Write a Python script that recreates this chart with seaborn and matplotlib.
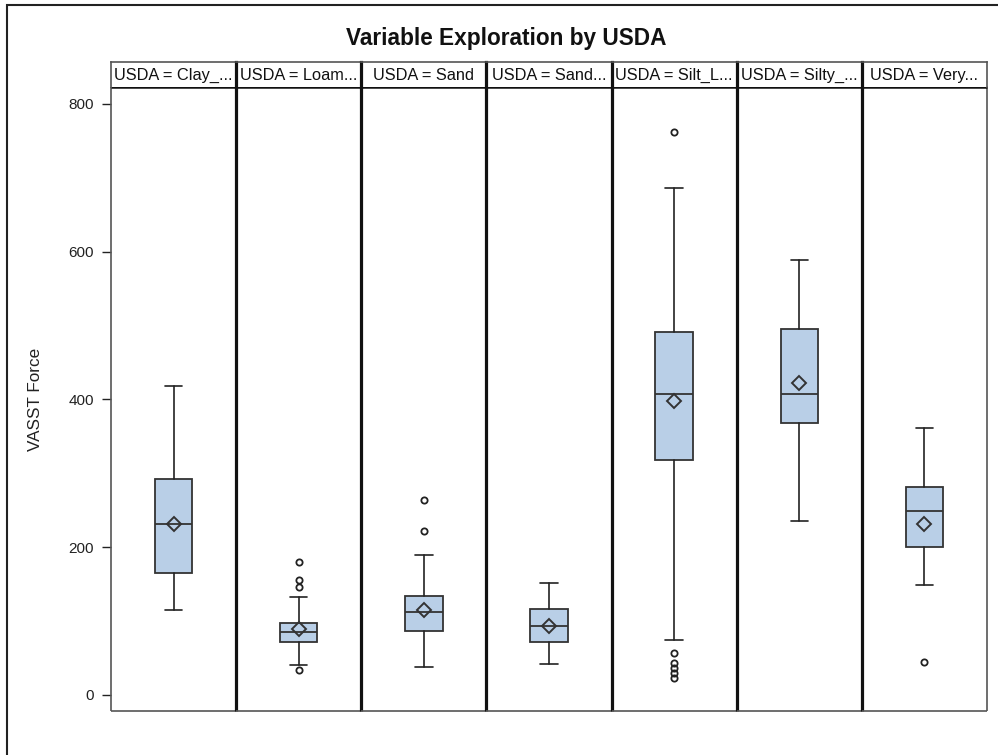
import numpy as np
import pandas as pd
import matplotlib
matplotlib.use("Agg")
import matplotlib.pyplot as plt
from matplotlib.patches import Rectangle
import seaborn as sns

# ---------------- data ----------------
labels = ["USDA = Clay_...", "USDA = Loam...", "USDA = Sand", "USDA = Sand...",
          "USDA = Silt_L...", "USDA = Silty_...", "USDA = Very..."]
q1 = [165, 72, 87, 72, 318, 368, 200]
med = [231, 85, 112, 93, 407, 407, 249]
q3 = [293, 97, 134, 116, 491, 496, 281]
whislo = [115, 41, 38, 42, 74, 235, 149]
whishi = [418, 133, 189, 151, 686, 589, 361]
means = [232, 89, 115, 93, 398, 422, 232]
fliers = [[], [34, 146, 156, 180], [222, 264], [], [23, 30, 36, 43, 57, 762], [], [45]]
yticks = [0, 200, 400, 600, 800]
title = "Variable Exploration by USDA"
ylabel = "VASST Force"

df = pd.DataFrame({"USDA": labels, "q1": q1, "med": med, "q3": q3,
                   "whislo": whislo, "whishi": whishi, "mean": means})

sns.set_style("white")
plt.rcParams['font.family'] = ['Liberation Sans', 'DejaVu Sans']

W, H = 998, 755
g = sns.FacetGrid(df, col="USDA", col_order=labels, sharey=True, height=6, aspect=0.2)
fig = g.figure
fig.set_size_inches(W / 100, H / 100)
fig.set_dpi(100)
fig.subplots_adjust(left=111 / W, right=987 / W, bottom=1 - 711 / H, top=1 - 87 / H, wspace=0)

box_fc = "#B9CFE7"
edge = "#333333"
sep = "#111111"
thin = "#555555"

for i, ax in enumerate(g.axes.flat):
    r = df.iloc[i]
    stats = [dict(med=r["med"], q1=r["q1"], q3=r["q3"], whislo=r["whislo"],
                  whishi=r["whishi"], mean=r["mean"], fliers=fliers[i])]
    ax.bxp(stats, positions=[0], widths=0.3, capwidths=0.14, showmeans=True,
           patch_artist=True, manage_ticks=False,
           boxprops=dict(facecolor=box_fc, edgecolor=edge, linewidth=1.3),
           medianprops=dict(color=edge, linewidth=1.3),
           whiskerprops=dict(color="#222222", linewidth=1.2),
           capprops=dict(color="#222222", linewidth=1.2),
           meanprops=dict(marker="D", markerfacecolor="none", markeredgecolor=edge,
                          markersize=7, markeredgewidth=1.4),
           flierprops=dict(marker="o", markerfacecolor="none", markeredgecolor="#222222",
                           markersize=4.5, markeredgewidth=1.3))
    ax.set_xlim(-0.5, 0.5)
    ax.set_ylim(-21.7, 823)
    ax.set_xticks([])
    ax.set_xlabel("")
    ax.set_ylabel("")
    ax.set_title("")
    for s in ax.spines.values():
        s.set_visible(True)
        s.set_capstyle("butt")
    ax.spines["bottom"].set_color(thin)
    ax.spines["bottom"].set_linewidth(1.2)
    ax.spines["top"].set_color(sep)
    ax.spines["top"].set_linewidth(1.8)
    if i == 0:
        ax.spines["left"].set_color(thin)
        ax.spines["left"].set_linewidth(1.2)
    else:
        ax.spines["left"].set_color(sep)
        ax.spines["left"].set_linewidth(2.3)
    if i == len(labels) - 1:
        ax.spines["right"].set_color(thin)
        ax.spines["right"].set_linewidth(1.2)
    else:
        ax.spines["right"].set_visible(False)

    # header strip
    hax = ax.inset_axes([0, 1, 1, 25 / 624])
    hax.set_xticks([])
    hax.set_yticks([])
    hax.set_xlim(0, 1)
    hax.set_ylim(0, 1)
    hax.set_facecolor("white")
    hax.spines["bottom"].set_visible(False)
    hax.spines["top"].set_color(thin)
    hax.spines["top"].set_linewidth(1.2)
    if i == 0:
        hax.spines["left"].set_color(thin)
        hax.spines["left"].set_linewidth(1.2)
    else:
        hax.spines["left"].set_color(sep)
        hax.spines["left"].set_linewidth(2.3)
    if i == len(labels) - 1:
        hax.spines["right"].set_color(thin)
        hax.spines["right"].set_linewidth(1.2)
    else:
        hax.spines["right"].set_visible(False)
    hax.text(0.5, 0.45, labels[i], ha="center", va="center", fontsize=11.8, color="#111111")

ax0 = g.axes.flat[0]
ax0.set_yticks(yticks)
ax0.set_yticklabels([str(t) for t in yticks])
ax0.tick_params(axis="y", which="both", left=True, direction="out", length=6.5,
                width=1.0, color="#222222", pad=6, labelsize=11, labelcolor="#222222")
for ax in g.axes.flat[1:]:
    ax.tick_params(axis="y", left=False, labelleft=False)

fig.text(35 / W, 1 - 399 / H, ylabel, rotation=90, ha="center", va="center",
         fontsize=12.3, color="#222222")
fig.text(506 / W, 1 - 38 / H, title, ha="center", va="center",
         fontsize=16.3, fontweight="bold", color="#111111")

# outer frame (left and top edges visible)
fig.add_artist(Rectangle((7 / W, -0.1), 1.2, 1.1 - 5 / H, transform=fig.transFigure,
                         fill=False, linewidth=1.5, edgecolor="#222222"))

fig.savefig("out.png", dpi=100)
